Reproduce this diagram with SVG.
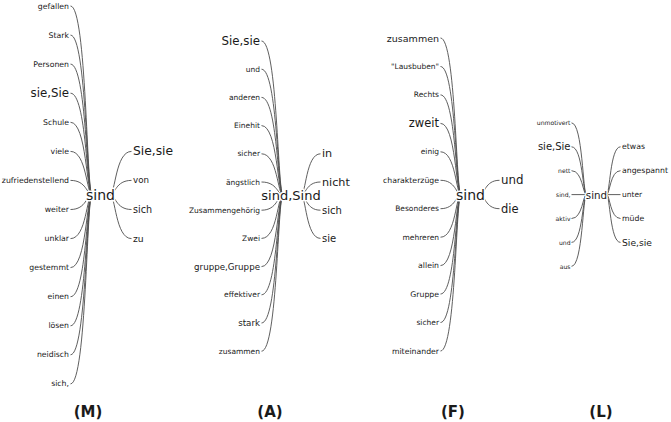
<svg xmlns="http://www.w3.org/2000/svg" width="671" height="422" viewBox="0 0 671 422">
<style>
text{font-family:"DejaVu Sans","Liberation Sans",sans-serif;fill:#1a1a1a;dominant-baseline:central}
.l{text-anchor:end}
.r{text-anchor:start}
.c{text-anchor:middle;stroke:#fff;stroke-width:3;paint-order:stroke;stroke-linejoin:round}
.t{text-anchor:middle;font-weight:bold;font-size:15px}
.s6{font-size:6.1px}.s75{font-size:7.5px}.s77{font-size:7.75px}.s87{font-size:8.7px}.s92{font-size:9.2px}.s95{font-size:9.5px}.s96{font-size:9.6px}.s10{font-size:10px}.s103{font-size:10.3px}.s11{font-size:11.2px}.s115{font-size:11.5px}.s12{font-size:11.8px}.s123{font-size:12.3px}.s13{font-size:13px}.s14{font-size:14px}
#connectors path{fill:none;stroke:#4d4d4d;stroke-width:0.9}
</style>
<rect width="671" height="422" fill="#fff"/>
<g id="connectors">
<g id="conn-M">
<path d="M70.5,6C86.6,6 86.6,194.5 92,194.5"/>
<path d="M70.5,35.1C86.6,35.1 86.6,194.5 92,194.5"/>
<path d="M70.5,64.1C86.6,64.1 86.6,194.5 92,194.5"/>
<path d="M70.5,93.2C86.6,93.2 86.6,194.5 92,194.5"/>
<path d="M70.5,122.3C86.6,122.3 86.6,194.5 92,194.5"/>
<path d="M70.5,151.4C86.6,151.4 86.6,194.5 92,194.5"/>
<path d="M70.5,180.4C86.6,180.4 86.6,194.5 92,194.5"/>
<path d="M70.5,209.5C86.6,209.5 86.6,194.5 92,194.5"/>
<path d="M70.5,238.6C86.6,238.6 86.6,194.5 92,194.5"/>
<path d="M70.5,267.6C86.6,267.6 86.6,194.5 92,194.5"/>
<path d="M70.5,296.7C86.6,296.7 86.6,194.5 92,194.5"/>
<path d="M70.5,325.8C86.6,325.8 86.6,194.5 92,194.5"/>
<path d="M70.5,354.8C86.6,354.8 86.6,194.5 92,194.5"/>
<path d="M70.5,383.9C86.6,383.9 86.6,194.5 92,194.5"/>
<path d="M110,194.5C115.4,194.5 115.4,151.4 131.5,151.4"/>
<path d="M110,194.5C115.4,194.5 115.4,180.4 131.5,180.4"/>
<path d="M110,194.5C115.4,194.5 115.4,209.5 131.5,209.5"/>
<path d="M110,194.5C115.4,194.5 115.4,238.6 131.5,238.6"/>
</g>
<g id="conn-A">
<path d="M261.5,41C277.6,41 277.6,195 283,195"/>
<path d="M261.5,69.2C277.6,69.2 277.6,195 283,195"/>
<path d="M261.5,97.4C277.6,97.4 277.6,195 283,195"/>
<path d="M261.5,125.6C277.6,125.6 277.6,195 283,195"/>
<path d="M261.5,153.8C277.6,153.8 277.6,195 283,195"/>
<path d="M261.5,182C277.6,182 277.6,195 283,195"/>
<path d="M261.5,210.2C277.6,210.2 277.6,195 283,195"/>
<path d="M261.5,238.4C277.6,238.4 277.6,195 283,195"/>
<path d="M261.5,266.6C277.6,266.6 277.6,195 283,195"/>
<path d="M261.5,294.8C277.6,294.8 277.6,195 283,195"/>
<path d="M261.5,323C277.6,323 277.6,195 283,195"/>
<path d="M261.5,351.2C277.6,351.2 277.6,195 283,195"/>
<path d="M301,195C305.9,195 305.9,153.8 320.5,153.8"/>
<path d="M301,195C305.9,195 305.9,182 320.5,182"/>
<path d="M301,195C305.9,195 305.9,210.2 320.5,210.2"/>
<path d="M301,195C305.9,195 305.9,238.4 320.5,238.4"/>
</g>
<g id="conn-F">
<path d="M440.5,38C455.9,38 455.9,194.5 461,194.5"/>
<path d="M440.5,66.5C455.9,66.5 455.9,194.5 461,194.5"/>
<path d="M440.5,94.9C455.9,94.9 455.9,194.5 461,194.5"/>
<path d="M440.5,123.4C455.9,123.4 455.9,194.5 461,194.5"/>
<path d="M440.5,151.8C455.9,151.8 455.9,194.5 461,194.5"/>
<path d="M440.5,180.3C455.9,180.3 455.9,194.5 461,194.5"/>
<path d="M440.5,208.7C455.9,208.7 455.9,194.5 461,194.5"/>
<path d="M440.5,237.2C455.9,237.2 455.9,194.5 461,194.5"/>
<path d="M440.5,265.6C455.9,265.6 455.9,194.5 461,194.5"/>
<path d="M440.5,294C455.9,294 455.9,194.5 461,194.5"/>
<path d="M440.5,322.5C455.9,322.5 455.9,194.5 461,194.5"/>
<path d="M440.5,351C455.9,351 455.9,194.5 461,194.5"/>
<path d="M480,194.5C484.9,194.5 484.9,180.3 499.5,180.3"/>
<path d="M480,194.5C484.9,194.5 484.9,208.7 499.5,208.7"/>
</g>
<g id="conn-L">
<path d="M571.5,122.9C582.75,122.9 582.75,194.6 586.5,194.6"/>
<path d="M571.5,146.8C582.75,146.8 582.75,194.6 586.5,194.6"/>
<path d="M571.5,170.7C582.75,170.7 582.75,194.6 586.5,194.6"/>
<path d="M571.5,194.6L586.5,194.6"/>
<path d="M571.5,218.5C582.75,218.5 582.75,194.6 586.5,194.6"/>
<path d="M571.5,242.4C582.75,242.4 582.75,194.6 586.5,194.6"/>
<path d="M571.5,266.3C582.75,266.3 582.75,194.6 586.5,194.6"/>
<path d="M606.5,194.6C610,194.6 610,146.8 620.5,146.8"/>
<path d="M606.5,194.6C610,194.6 610,170.7 620.5,170.7"/>
<path d="M606.5,194.6L620.5,194.6"/>
<path d="M606.5,194.6C610,194.6 610,218.5 620.5,218.5"/>
<path d="M606.5,194.6C610,194.6 610,242.4 620.5,242.4"/>
</g>
</g>
<g id="tree-M">
<g id="M-gefallen"><text class="l s77" x="69" y="6">gefallen</text></g>
<g id="M-Stark"><text class="l s77" x="69" y="35.1">Stark</text></g>
<g id="M-Personen"><text class="l s77" x="69" y="64.1">Personen</text></g>
<g id="M-sieSie"><text class="l s12" x="69" y="93.2">sie,Sie</text></g>
<g id="M-Schule"><text class="l s77" x="69" y="122.3">Schule</text></g>
<g id="M-viele"><text class="l s77" x="69" y="151.4">viele</text></g>
<g id="M-zufriedenstellend"><text class="l s77" x="69" y="180.4">zufriedenstellend</text></g>
<g id="M-weiter"><text class="l s77" x="69" y="209.5">weiter</text></g>
<g id="M-unklar"><text class="l s77" x="69" y="238.6">unklar</text></g>
<g id="M-gestemmt"><text class="l s77" x="69" y="267.6">gestemmt</text></g>
<g id="M-einen"><text class="l s77" x="69" y="296.7">einen</text></g>
<g id="M-loesen"><text class="l s77" x="69" y="325.8">lösen</text></g>
<g id="M-neidisch"><text class="l s77" x="69" y="354.8">neidisch</text></g>
<g id="M-sich2"><text class="l s77" x="69" y="383.9">sich,</text></g>
<g id="M-center"><text class="c s14" x="100.5" y="194.5">sind</text></g>
<g id="M-Siesie"><text class="r s123" x="133" y="151.4">Sie,sie</text></g>
<g id="M-von"><text class="r s87" x="133" y="180.4">von</text></g>
<g id="M-sich"><text class="r s96" x="133" y="209.5">sich</text></g>
<g id="M-zu"><text class="r s92" x="133" y="238.6">zu</text></g>
</g>
<g id="tree-A">
<g id="A-Siesie"><text class="l s12" x="260" y="41">Sie,sie</text></g>
<g id="A-und"><text class="l s75" x="260" y="69.2">und</text></g>
<g id="A-anderen"><text class="l s75" x="260" y="97.4">anderen</text></g>
<g id="A-Einehit"><text class="l s75" x="260" y="125.6">Einehit</text></g>
<g id="A-sicher"><text class="l s75" x="260" y="153.8">sicher</text></g>
<g id="A-aengstlich"><text class="l s75" x="260" y="182">ängstlich</text></g>
<g id="A-Zusammengehoerig"><text class="l s75" x="260" y="210.2">Zusammengehörig</text></g>
<g id="A-Zwei"><text class="l s75" x="260" y="238.4">Zwei</text></g>
<g id="A-gruppe"><text class="l s87" x="260" y="266.6">gruppe,Gruppe</text></g>
<g id="A-effektiver"><text class="l s75" x="260" y="294.8">effektiver</text></g>
<g id="A-stark"><text class="l s87" x="260" y="323">stark</text></g>
<g id="A-zusammen"><text class="l s75" x="260" y="351.2">zusammen</text></g>
<g id="A-center"><text class="c s13" x="291" y="195">sind,Sind</text></g>
<g id="A-in"><text class="r s11" x="322" y="153.8">in</text></g>
<g id="A-nicht"><text class="r s11" x="322" y="182">nicht</text></g>
<g id="A-sich"><text class="r s10" x="322" y="210.2">sich</text></g>
<g id="A-sie"><text class="r s10" x="322" y="238.4">sie</text></g>
</g>
<g id="tree-F">
<g id="F-zusammen"><text class="l s95" x="439" y="38">zusammen</text></g>
<g id="F-Lausbuben"><text class="l s75" x="439" y="66.5">"Lausbuben"</text></g>
<g id="F-Rechts"><text class="l s75" x="439" y="94.9">Rechts</text></g>
<g id="F-zweit"><text class="l s115" x="439" y="123.4">zweit</text></g>
<g id="F-einig"><text class="l s75" x="439" y="151.8">einig</text></g>
<g id="F-charakterzuege"><text class="l s77" x="439" y="180.3">charakterzüge</text></g>
<g id="F-Besonderes"><text class="l s75" x="439" y="208.7">Besonderes</text></g>
<g id="F-mehreren"><text class="l s75" x="439" y="237.2">mehreren</text></g>
<g id="F-allein"><text class="l s77" x="439" y="265.6">allein</text></g>
<g id="F-Gruppe"><text class="l s77" x="439" y="294">Gruppe</text></g>
<g id="F-sicher"><text class="l s75" x="439" y="322.5">sicher</text></g>
<g id="F-miteinander"><text class="l s77" x="439" y="351">miteinander</text></g>
<g id="F-center"><text class="c s14" x="470.5" y="194.5">sind</text></g>
<g id="F-und"><text class="r s12" x="501" y="180.3">und</text></g>
<g id="F-die"><text class="r s115" x="501" y="208.7">die</text></g>
</g>
<g id="tree-L">
<g id="L-unmotivert"><text class="l s6" x="570.5" y="122.9">unmotivert</text></g>
<g id="L-sieSie"><text class="l s10" x="570.5" y="146.8">sie,Sie</text></g>
<g id="L-nett"><text class="l s6" x="570.5" y="170.7">nett</text></g>
<g id="L-sind2"><text class="l s6" x="570.5" y="194.6">sind,</text></g>
<g id="L-aktiv"><text class="l s6" x="570.5" y="218.5">aktiv</text></g>
<g id="L-und"><text class="l s6" x="570.5" y="242.4">und</text></g>
<g id="L-aus"><text class="l s6" x="570.5" y="266.3">aus</text></g>
<g id="L-center"><text class="c s103" x="596.5" y="194.6">sind</text></g>
<g id="L-etwas"><text class="r s77" x="622" y="146.8">etwas</text></g>
<g id="L-angespannt"><text class="r s77" x="622" y="170.7">angespannt</text></g>
<g id="L-unter"><text class="r s75" x="622" y="194.6">unter</text></g>
<g id="L-muede"><text class="r s77" x="622" y="218.5">müde</text></g>
<g id="L-Siesie"><text class="r s92" x="622" y="242.4">Sie,sie</text></g>
</g>
<g id="titles">
<text class="t" x="88" y="412">(M)</text>
<text class="t" x="270" y="412">(A)</text>
<text class="t" x="453" y="412">(F)</text>
<text class="t" x="601" y="412">(L)</text>
</g>
</svg>
